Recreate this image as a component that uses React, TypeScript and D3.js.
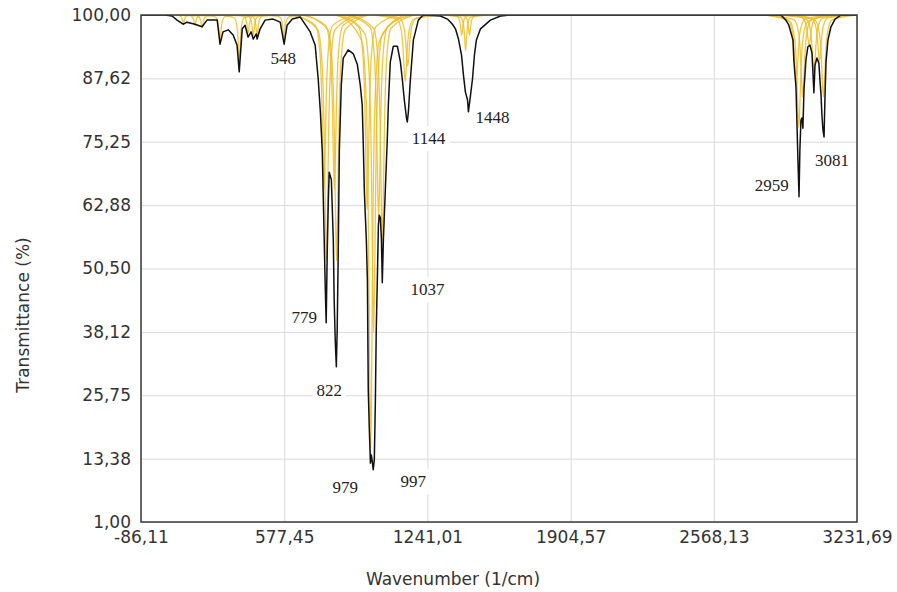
import React, { useEffect, useRef } from 'react';
import * as d3 from 'd3';

// axis ticks (decimal comma as in the original)
const xTicks = [-86.11, 577.45, 1241.01, 1904.57, 2568.13, 3231.69];
const xTickLabels = ['-86,11', '577,45', '1241,01', '1904,57', '2568,13', '3231,69'];
const yTicks = [1, 13.38, 25.75, 38.12, 50.5, 62.88, 75.25, 87.62, 100];
const yTickLabels = ['1,00', '13,38', '25,75', '38,12', '50,50', '62,88', '75,25', '87,62', '100,00'];

// measured spectrum [wavenumber, transmittance]
const spectrum: [number, number][] = [
  [-86.11, 100], [25, 100], [58, 99.8], [81, 99.0], [109, 98.2], [127, 98.6], [164, 98.2], [197, 97.7],
  [220, 99.0], [267, 99.0], [280, 94.3], [294, 96.7], [318, 97.1], [341, 96.1], [359, 94.1], [369, 88.9],
  [383, 97.3], [396, 98.0], [410, 95.7], [424, 96.7], [434, 95.3], [448, 96.3], [452, 95.3], [466, 97.3],
  [489, 99.0], [526, 99.2], [559, 98.6], [577, 94.3], [591, 98.0], [615, 99.2], [652, 99.6], [698, 96.7],
  [721, 94.1], [735, 87.5], [745, 81.1], [754, 73.2], [758, 65.4], [763, 55.7], [768, 46.3], [772, 39.9],
  [777, 54.1], [782, 63.9], [786, 69.3], [796, 67.8], [805, 56.1], [809, 44.3], [814, 36.5], [819, 31.3],
  [823, 38.5], [828, 54.1], [833, 73.6], [842, 86.3], [851, 91.6], [874, 93.2], [898, 92.4], [916, 90.4],
  [930, 86.3], [939, 82.4], [944, 74.6], [949, 65.4], [958, 56.1], [963, 48.3], [967, 26.8], [972, 19.0],
  [977, 12.5], [981, 14.1], [986, 12.7], [990, 11.2], [995, 13.1], [1000, 24.8], [1004, 38.5], [1009, 48.3],
  [1014, 59.0], [1018, 60.9], [1023, 60.4], [1028, 56.1], [1032, 47.7], [1037, 56.1], [1046, 65.8],
  [1055, 75.6], [1060, 82.4], [1069, 90.8], [1083, 93.9], [1102, 93.9], [1116, 90.8], [1125, 87.3],
  [1134, 83.4], [1144, 79.9], [1148, 79.1], [1153, 81.1], [1162, 87.3], [1176, 95.1], [1199, 99.0],
  [1222, 100], [1301, 99.8], [1334, 99.2], [1357, 98.2], [1371, 97.3], [1385, 95.3], [1399, 92.2],
  [1408, 88.3], [1417, 85.0], [1427, 83.4], [1431, 81.1], [1441, 84.4], [1450, 87.5], [1459, 92.2],
  [1468, 95.1], [1487, 97.3], [1533, 99.0], [1580, 99.8], [1626, 100], [2879, 100], [2902, 99.0],
  [2916, 98.0], [2935, 95.1], [2939, 91.2], [2949, 85.9], [2953, 79.5], [2958, 71.7], [2963, 64.5],
  [2967, 73.6], [2972, 79.5], [2977, 79.9], [2981, 77.9], [2986, 85.4], [2995, 91.2], [3004, 93.8],
  [3014, 94.1], [3023, 92.6], [3028, 88.3], [3032, 84.8], [3037, 90.2], [3046, 91.6], [3055, 90.6],
  [3060, 87.3], [3065, 84.4], [3069, 80.5], [3074, 77.5], [3079, 76.2], [3083, 83.4], [3088, 90.8],
  [3097, 95.1], [3111, 97.7], [3130, 99.2], [3158, 100], [3231.69, 100],
];

// individual band components (yellow), low wavenumber region
const bandsLow: [number, number][][] = [
  [[20, 100], [86, 99.91], [98, 99.7], [104, 99.25], [107, 98.8], [110, 98.5], [113, 98.8], [116, 99.25], [122, 99.7], [134, 99.91], [200, 100]],
  [[74, 100], [140, 99.88], [152, 99.6], [158, 99], [161, 98.4], [164, 98], [167, 98.4], [170, 99], [176, 99.6], [188, 99.88], [254, 100]],
  [[107, 100], [173, 99.85], [185, 99.5], [191, 98.75], [194, 98], [197, 97.5], [200, 98], [203, 98.75], [209, 99.5], [221, 99.85], [287, 100]],
  [[190, 100], [256, 99.7], [268, 99], [274, 97.5], [277, 96], [280, 95], [283, 96], [286, 97.5], [292, 99], [304, 99.7], [370, 100]],
  [[279, 100], [345, 99.46], [357, 98.2], [363, 95.5], [366, 92.8], [369, 91], [372, 92.8], [375, 95.5], [381, 98.2], [393, 99.46], [459, 100]],
  [[320, 100], [386, 99.79], [398, 99.3], [404, 98.25], [407, 97.2], [410, 96.5], [413, 97.2], [416, 98.25], [422, 99.3], [434, 99.79], [500, 100]],
  [[344, 100], [410, 99.76], [422, 99.2], [428, 98], [431, 96.8], [434, 96], [437, 96.8], [440, 98], [446, 99.2], [458, 99.76], [524, 100]],
  [[362, 100], [428, 99.76], [440, 99.2], [446, 98], [449, 96.8], [452, 96], [455, 96.8], [458, 98], [464, 99.2], [476, 99.76], [542, 100]],
  [[487, 100], [553, 99.7], [565, 99], [571, 97.5], [574, 96], [577, 95], [580, 96], [583, 97.5], [589, 99], [601, 99.7], [667, 100]],
];

// fingerprint region components
const bandsMain: [number, number][][] = [
  [[612, 100], [722, 97.96], [742, 93.2], [752, 83], [757, 72.8], [762, 66], [767, 72.8], [772, 83], [782, 93.2], [802, 97.96], [912, 100]],
  [[623, 100], [733, 97.12], [753, 90.4], [763, 76], [768, 61.6], [773, 52], [778, 61.6], [783, 76], [793, 90.4], [813, 97.12], [923, 100]],
  [[660, 100], [770, 97.96], [790, 93.2], [800, 83], [805, 72.8], [810, 66], [815, 72.8], [820, 83], [830, 93.2], [850, 97.96], [960, 100]],
  [[670, 100], [780, 97.12], [800, 90.4], [810, 76], [815, 61.6], [820, 52], [825, 61.6], [830, 76], [840, 90.4], [860, 97.12], [970, 100]],
  [[812, 100], [922, 97.72], [942, 92.4], [952, 81], [957, 69.6], [962, 62], [967, 69.6], [972, 81], [982, 92.4], [1002, 97.72], [1112, 100]],
  [[828, 100], [938, 94.84], [958, 82.8], [968, 57], [973, 31.2], [978, 14], [983, 31.2], [988, 57], [998, 82.8], [1018, 94.84], [1128, 100]],
  [[842, 100], [952, 96.28], [972, 87.6], [982, 69], [987, 50.4], [992, 38], [997, 50.4], [1002, 69], [1012, 87.6], [1032, 96.28], [1142, 100]],
  [[865, 100], [975, 97.6], [995, 92], [1005, 80], [1010, 68], [1015, 60], [1020, 68], [1025, 80], [1035, 92], [1055, 97.6], [1165, 100]],
  [[882, 100], [992, 97.36], [1012, 91.2], [1022, 78], [1027, 64.8], [1032, 56], [1037, 64.8], [1042, 78], [1052, 91.2], [1072, 97.36], [1182, 100]],
  [[988, 100], [1098, 99.22], [1118, 97.4], [1128, 93.5], [1133, 89.6], [1138, 87], [1143, 89.6], [1148, 93.5], [1158, 97.4], [1178, 99.22], [1288, 100]],
  [[1000, 100], [1110, 99.4], [1130, 98], [1140, 95], [1145, 92], [1150, 90], [1155, 92], [1160, 95], [1170, 98], [1190, 99.4], [1300, 100]],
  [[1310, 100], [1376, 99.76], [1388, 99.2], [1394, 98], [1397, 96.8], [1400, 96], [1403, 96.8], [1406, 98], [1412, 99.2], [1424, 99.76], [1490, 100]],
  [[1328, 100], [1394, 99.58], [1406, 98.6], [1412, 96.5], [1415, 94.4], [1418, 93], [1421, 94.4], [1424, 96.5], [1430, 98.6], [1442, 99.58], [1508, 100]],
  [[1346, 100], [1412, 99.76], [1424, 99.2], [1430, 98], [1433, 96.8], [1436, 96], [1439, 96.8], [1442, 98], [1448, 99.2], [1460, 99.76], [1526, 100]],
];

// C-H stretch region components
const bandsHigh: [number, number][][] = [
  [[2800, 100], [2910, 99.16], [2930, 97.2], [2940, 93], [2945, 88.8], [2950, 86], [2955, 88.8], [2960, 93], [2970, 97.2], [2990, 99.16], [3100, 100]],
  [[2812, 100], [2922, 98.68], [2942, 95.6], [2952, 89], [2957, 82.4], [2962, 78], [2967, 82.4], [2972, 89], [2982, 95.6], [3002, 98.68], [3112, 100]],
  [[2830, 100], [2940, 99.04], [2960, 96.8], [2970, 92], [2975, 87.2], [2980, 84], [2985, 87.2], [2990, 92], [3000, 96.8], [3020, 99.04], [3130, 100]],
  [[2860, 100], [2970, 99.64], [2990, 98.8], [3000, 97], [3005, 95.2], [3010, 94], [3015, 95.2], [3020, 97], [3030, 98.8], [3050, 99.64], [3160, 100]],
  [[2882, 100], [2992, 99.34], [3012, 97.8], [3022, 94.5], [3027, 91.2], [3032, 89], [3037, 91.2], [3042, 94.5], [3052, 97.8], [3072, 99.34], [3182, 100]],
  [[2908, 100], [3018, 99.46], [3038, 98.2], [3048, 95.5], [3053, 92.8], [3058, 91], [3063, 92.8], [3068, 95.5], [3078, 98.2], [3098, 99.46], [3208, 100]],
  [[2926, 100], [3036, 99.04], [3056, 96.8], [3066, 92], [3071, 87.2], [3076, 84], [3081, 87.2], [3086, 92], [3096, 96.8], [3116, 99.04], [3226, 100]],
];

// peak annotations: text and anchor (wavenumber, transmittance) of the label centre
const peakLabels = ['548', '779', '822', '979', '997', '1037', '1144', '1448', '2959', '3081'];
const peakLabelW = [573, 670, 786, 860, 1176, 1241, 1246, 1543, 2837, 3116];
const peakLabelT = [91.6, 41.0, 26.8, 7.8, 9.0, 46.5, 76.0, 80.1, 66.8, 71.7];

const IRChart = ({ width, height }: { width: number; height: number }) => {
  const svgRef = useRef<SVGSVGElement>(null);

  useEffect(() => {
    const svg = d3.select(svgRef.current);
    svg.selectAll('*').remove();

    const margin = { top: 15, right: 40, bottom: 70, left: 141 };
    const plotW = width - margin.left - margin.right;
    const plotH = height - margin.top - margin.bottom;

    const x = d3.scaleLinear()
      .domain([xTicks[0], xTicks[xTicks.length - 1]])
      .range([margin.left, margin.left + plotW]);
    const y = d3.scaleLinear()
      .domain([yTicks[0], yTicks[yTicks.length - 1]])
      .range([margin.top + plotH, margin.top]);

    const font = '"DejaVu Sans", Verdana, sans-serif';

    // axes + grid
    const xAxis = d3.axisBottom(x)
      .tickValues(xTicks)
      .tickFormat((_d, i) => xTickLabels[i])
      .tickSize(-plotH)
      .tickPadding(9);
    const gx = svg.append('g')
      .attr('transform', `translate(0, ${margin.top + plotH})`)
      .call(xAxis);
    const yAxis = d3.axisLeft(y)
      .tickValues(yTicks)
      .tickFormat((_d, i) => yTickLabels[i])
      .tickSize(-plotW)
      .tickPadding(10);
    const gy = svg.append('g')
      .attr('transform', `translate(${margin.left}, 0)`)
      .call(yAxis);
    [gx, gy].forEach(g => {
      g.select('.domain').remove();
      g.selectAll('.tick line').attr('stroke', '#d9d9d9').attr('stroke-width', 1);
      g.selectAll('.tick text')
        .attr('fill', '#333')
        .style('font-family', font)
        .style('font-size', '17px');
    });

    // label backgrounds sit over the grid
    const labels = svg.append('g');
    peakLabels.forEach((t, i) => {
      const txt = labels.append('text')
        .attr('x', x(peakLabelW[i]))
        .attr('y', y(peakLabelT[i]))
        .attr('dy', '0.35em')
        .attr('text-anchor', 'middle')
        .style('font-family', '"Liberation Serif", "Times New Roman", serif')
        .style('font-size', '17px')
        .attr('fill', '#222')
        .text(t);
      const bb = (txt.node() as SVGTextElement).getBBox();
      labels.insert('rect', 'text')
        .attr('x', bb.x - 4).attr('y', bb.y - 3)
        .attr('width', bb.width + 8).attr('height', bb.height + 6)
        .attr('fill', '#fff');
    });

    svg.append('clipPath').attr('id', 'plot-clip')
      .append('rect')
      .attr('x', margin.left).attr('y', margin.top)
      .attr('width', plotW).attr('height', plotH);

    const plot = svg.append('g').attr('clip-path', 'url(#plot-clip)');

    const bandLine = d3.line<[number, number]>()
      .x(d => x(d[0]))
      .y(d => y(d[1]))
      .curve(d3.curveMonotoneX);

    plot.selectAll('path.band')
      .data([...bandsLow, ...bandsMain, ...bandsHigh])
      .join('path')
      .attr('class', 'band')
      .attr('d', d => bandLine(d))
      .attr('fill', 'none')
      .attr('stroke', '#eebc22')
      .attr('stroke-opacity', 0.85)
      .attr('stroke-width', 1.3);

    const specLine = d3.line<[number, number]>()
      .x(d => x(d[0]))
      .y(d => y(d[1]));

    plot.append('path')
      .datum(spectrum)
      .attr('d', specLine)
      .attr('fill', 'none')
      .attr('stroke', '#111')
      .attr('stroke-width', 1.5)
      .attr('stroke-linejoin', 'round');

    // frame
    svg.append('rect')
      .attr('x', margin.left).attr('y', margin.top)
      .attr('width', plotW).attr('height', plotH)
      .attr('fill', 'none')
      .attr('stroke', '#3a3a3a')
      .attr('stroke-width', 1.5);

    // axis titles
    svg.append('text')
      .attr('x', 453)
      .attr('y', height - 7)
      .attr('text-anchor', 'middle')
      .style('font-family', font)
      .style('font-size', '17px')
      .attr('fill', '#333')
      .text('Wavenumber (1/cm)');
    svg.append('text')
      .attr('transform', `translate(29, 315) rotate(-90)`)
      .attr('text-anchor', 'middle')
      .style('font-family', font)
      .style('font-size', '17px')
      .attr('fill', '#333')
      .text('Transmittance (%)');
  }, [width, height]);

  return <svg ref={svgRef} width={width} height={height} style={{ display: 'block', background: '#fff' }} />;
};

export default function App() {
  return (
    <div style={{ position: 'absolute', left: 0, top: 0 }}>
      <IRChart width={897} height={592} />
    </div>
  );
}
